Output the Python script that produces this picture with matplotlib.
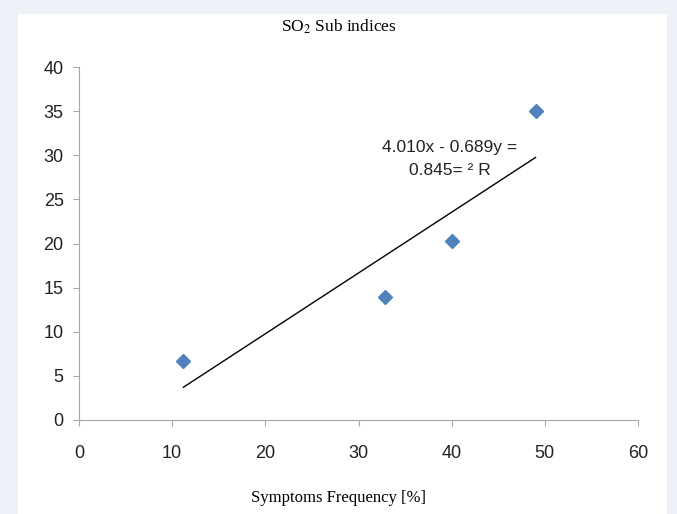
import matplotlib.pyplot as plt
from matplotlib.patches import Rectangle
import numpy as np

plt.rcParams['mathtext.fontset'] = 'stix'

# Data
freq = [11.2, 32.8, 40.0, 49.0]
sub_index = [6.7, 13.9, 20.3, 35.0]
slope = 0.689
intercept = -4.010
xticks = [0, 10, 20, 30, 40, 50, 60]
yticks = [0, 5, 10, 15, 20, 25, 30, 35, 40]

fig = plt.figure(figsize=(6.77, 5.14), dpi=100, facecolor='#eef0f7')
# white panel behind the chart
fig.patches.append(Rectangle((18/677, 0), 649/677, 500/514, transform=fig.transFigure,
                             facecolor='white', edgecolor='none', zorder=-10))

ax = fig.add_axes([0.1167, 0.1829, 0.8257, 0.6867])
ax.set_facecolor('none')

ax.plot(freq, sub_index, linestyle='none', marker='D', markersize=6.8,
        color='#4f81bd', zorder=3)

xs = np.array([freq[0], freq[-1]])
ax.plot(xs, slope*xs + intercept, color='black', linewidth=1.0)

ax.text(39.8, 29.6, '4.010x - 0.689y =\n0.845= ² R', ha='center', va='center',
        fontsize=12.5, family='Liberation Sans', color='#222222', linespacing=1.7)

ax.set_xlim(0, 60)
ax.set_ylim(0, 40)
ax.set_xticks(xticks)
ax.set_yticks(yticks)

for side in ['top', 'right']:
    ax.spines[side].set_visible(False)
for side in ['left', 'bottom']:
    ax.spines[side].set_color('#a6a6a6')
ax.tick_params(direction='out', length=4, color='#a6a6a6', labelcolor='#222222',
               labelsize=13, pad=7)
ax.tick_params(axis='x', pad=14)
for lab in ax.get_xticklabels() + ax.get_yticklabels():
    lab.set_family('Liberation Sans')

fig.text(0.5, 0.948, 'SO$_2$ Sub indices', ha='center', va='center',
         fontsize=12.5, family='Liberation Serif')
fig.text(0.5, 0.031, 'Symptoms Frequency [%]', ha='center', va='center',
         fontsize=12, family='Liberation Serif')

fig.savefig('out.png', dpi=100, facecolor=fig.get_facecolor())
